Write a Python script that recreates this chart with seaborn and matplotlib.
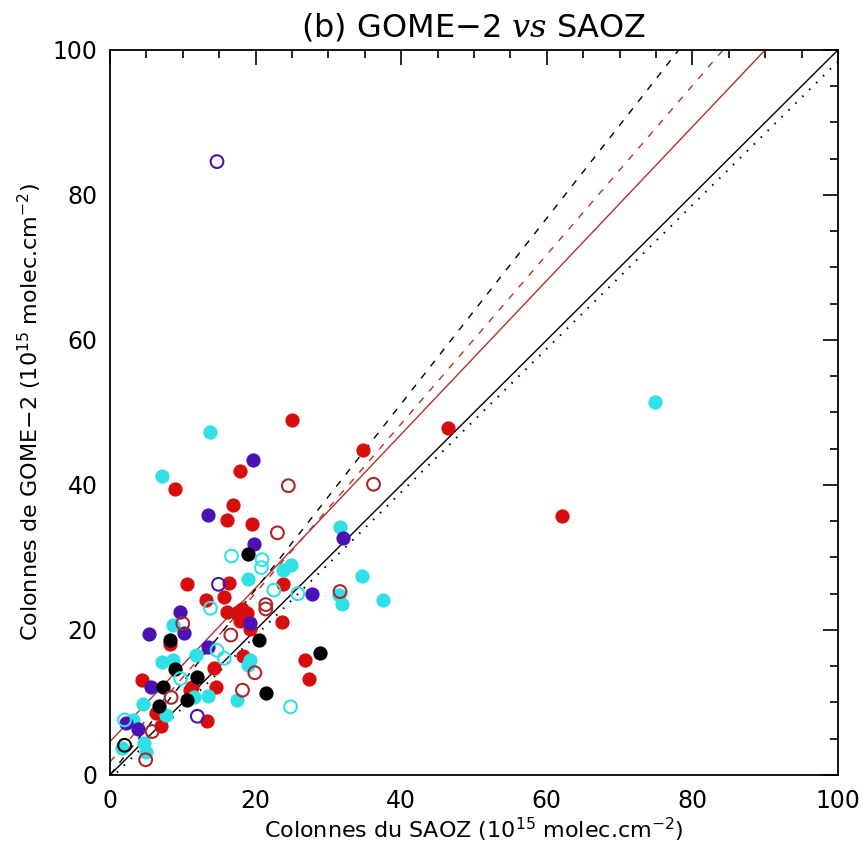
import numpy as np
import pandas as pd
import matplotlib
matplotlib.use("Agg")
import matplotlib.pyplot as plt
import seaborn as sns
from matplotlib.ticker import MultipleLocator

# ---- data (SAOZ x, GOME-2 y), 1e15 molec/cm2 ----
red_filled_x = [25.0, 34.7, 46.5, 17.9, 8.9, 16.9, 16.1, 19.5, 10.6, 16.4, 23.7, 13.2, 15.7, 16.1,
                17.6, 18.2, 18.8, 17.9, 18.5, 23.6, 19.3, 8.3, 18.3, 14.3, 4.4, 11.2, 14.5, 11.0,
                6.3, 13.3, 7.0, 26.8, 27.4, 62.1]
red_filled_y = [49.0, 44.8, 47.9, 41.9, 39.5, 37.3, 35.2, 34.6, 26.4, 26.5, 26.3, 24.1, 24.5, 22.5,
                22.5, 22.9, 22.3, 21.2, 21.8, 21.1, 20.2, 18.1, 16.4, 14.8, 13.1, 12.2, 12.2, 11.7,
                8.5, 7.5, 6.8, 15.8, 13.2, 35.7]

cyan_filled_x = [13.7, 7.2, 18.9, 23.8, 24.8, 31.6, 34.6, 31.4, 31.9, 37.5, 74.8, 8.6, 11.8, 19.3,
                 18.9, 7.2, 8.6, 11.6, 13.4, 17.5, 4.5, 7.7, 3.1, 4.7, 1.7, 4.9]
cyan_filled_y = [47.3, 41.2, 27.1, 28.3, 29.0, 34.2, 27.4, 24.8, 23.6, 24.1, 51.4, 20.7, 16.6, 15.9,
                 15.2, 15.6, 15.9, 10.7, 10.9, 10.3, 9.8, 8.3, 7.6, 4.4, 3.7, 3.2]

cyan_open_x = [16.7, 20.9, 20.8, 22.5, 25.8, 13.8, 14.7, 15.7, 9.7, 24.8, 2.0]
cyan_open_y = [30.2, 29.7, 28.6, 25.5, 25.0, 23.0, 17.2, 16.1, 13.3, 9.4, 7.6]

purple_filled_x = [19.7, 13.4, 19.8, 32.0, 27.7, 9.6, 19.2, 5.4, 10.2, 13.4, 5.6, 2.2, 3.9]
purple_filled_y = [43.4, 35.9, 31.9, 32.7, 25.0, 22.5, 20.9, 19.4, 19.6, 17.6, 12.1, 7.2, 6.4]

purple_open_x = [14.7, 14.9, 12.0]
purple_open_y = [84.6, 26.3, 8.1]

red_open_x = [24.5, 36.2, 23.0, 31.6, 21.4, 21.4, 10.0, 16.6, 19.9, 8.4, 18.2, 5.8, 4.9]
red_open_y = [39.9, 40.1, 33.4, 25.3, 23.5, 22.9, 20.9, 19.3, 14.1, 10.7, 11.7, 6.0, 2.1]

black_filled_x = [18.9, 20.5, 8.3, 8.9, 12.0, 7.3, 10.6, 21.4, 6.8, 28.8]
black_filled_y = [30.5, 18.6, 18.6, 14.6, 13.5, 12.1, 10.3, 11.3, 9.5, 16.8]

black_open_x = [2.0]
black_open_y = [4.1]

# regression / reference lines: (intercept, slope)
line_names = ["one_to_one", "dotted", "red_fit", "red_dashed", "black_dashed"]
line_intercepts = [0.0, -0.6, 4.6, 1.8, 0.0]
line_slopes = [1.0, 0.99, 1.06, 1.166, 1.28]

tick_values = [0, 20, 40, 60, 80, 100]

# ---- styling ----
sns.set_theme(style="white")
plt.rcParams["font.family"] = ["DejaVu Sans"]
plt.rcParams["text.color"] = "black"
plt.rcParams["axes.labelcolor"] = "black"
plt.rcParams["xtick.color"] = "black"
plt.rcParams["ytick.color"] = "black"
plt.rcParams["mathtext.fontset"] = "custom"
plt.rcParams["mathtext.rm"] = "DejaVu Sans"
plt.rcParams["mathtext.it"] = "DejaVu Serif:italic"
plt.rcParams["mathtext.bf"] = "DejaVu Sans:bold"

RED = "#d80d0d"
CYAN = "#2fe0e6"
PURPLE = "#4a12b4"
BLACK = "#000000"
RED_EDGE = "#a8282a"
FIT_RED = "#b5302a"

fig = plt.figure(figsize=(8.62, 8.48), dpi=100)
ax = fig.add_axes([0.1276, 0.0861, 0.8445, 0.8550])

# lines
xl = np.array([0.0, 100.0])
line_styles = {
    "one_to_one": dict(color=BLACK, lw=1.0, ls="-"),
    "dotted": dict(color=BLACK, lw=1.4, ls=(0, (0.8, 4.2))),
    "red_fit": dict(color=FIT_RED, lw=1.0, ls="-"),
    "red_dashed": dict(color=FIT_RED, lw=1.0, ls=(0, (5, 6))),
    "black_dashed": dict(color=BLACK, lw=1.0, ls=(0, (5, 6))),
}
for name, b, a in zip(line_names, line_intercepts, line_slopes):
    st = line_styles[name]
    sns.lineplot(x=xl, y=b + a * xl, ax=ax, color=st["color"], lw=st["lw"],
                 linestyle=st["ls"], zorder=2)

S = 105
filled = [(red_filled_x, red_filled_y, RED), (cyan_filled_x, cyan_filled_y, CYAN),
          (purple_filled_x, purple_filled_y, PURPLE), (black_filled_x, black_filled_y, BLACK)]
opened = [(red_open_x, red_open_y, RED_EDGE), (cyan_open_x, cyan_open_y, CYAN),
          (purple_open_x, purple_open_y, PURPLE), (black_open_x, black_open_y, BLACK)]

for xs, ys, c in filled:
    sns.scatterplot(x=xs, y=ys, ax=ax, color=c, s=S, linewidth=0, zorder=3)
for xs, ys, c in opened:
    sns.scatterplot(x=xs, y=ys, ax=ax, facecolors="none", edgecolor=c, s=S * 0.8,
                    linewidth=1.5, zorder=4)

ax.set_xlim(0, 100)
ax.set_ylim(0, 100)
ax.set_xticks(tick_values)
ax.set_yticks(tick_values)
ax.xaxis.set_minor_locator(MultipleLocator(5))
ax.yaxis.set_minor_locator(MultipleLocator(5))
ax.tick_params(which="both", direction="in", top=True, right=True, color="black", width=1.2)
ax.tick_params(which="major", length=11, labelsize=17)
ax.tick_params(axis="x", which="major", pad=10)
ax.tick_params(axis="y", which="major", pad=9)
ax.tick_params(which="minor", length=6)
for sp in ax.spines.values():
    sp.set_color("black")
    sp.set_linewidth(1.3)

ax.set_xlabel("Colonnes du SAOZ (10$^{15}$ molec.cm$^{-2}$)", fontsize=16, labelpad=2)
ax.set_ylabel("Colonnes de GOME\u22122 (10$^{15}$ molec.cm$^{-2}$)", fontsize=16, labelpad=6)
ax.set_title("(b) GOME\u22122 $\\mathit{vs}$ SAOZ", fontsize=23, pad=10)

fig.savefig("out.png", dpi=100, facecolor="white")
